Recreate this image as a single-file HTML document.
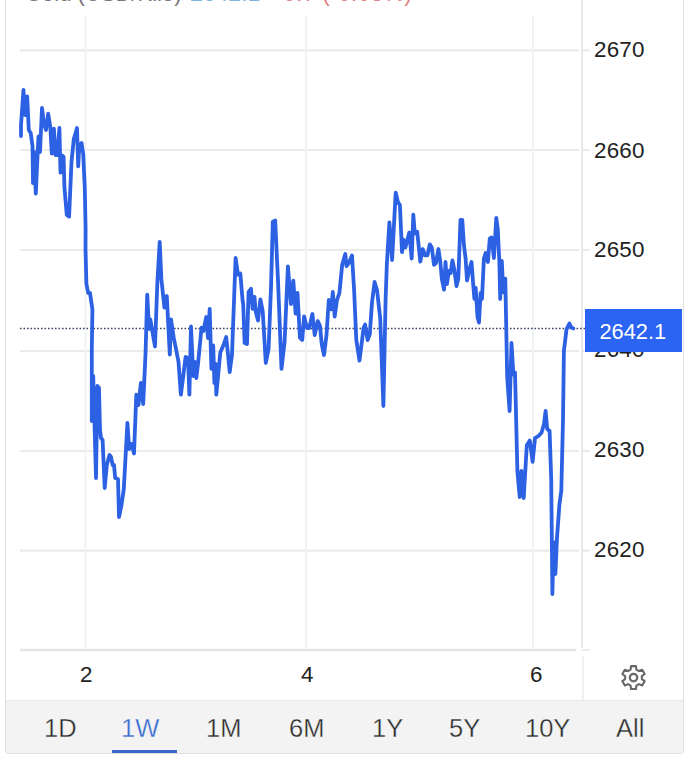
<!DOCTYPE html>
<html><head><meta charset="utf-8">
<style>
html,body{margin:0;padding:0;background:#fff;}
body{width:691px;height:765px;overflow:hidden;position:relative;font-family:"Liberation Sans",sans-serif;}
.a{position:absolute;white-space:nowrap;}
.card{position:absolute;left:5px;top:-20px;width:676.5px;height:772.5px;border:1.5px solid #e0e0e0;border-top:none;border-radius:0 0 4px 4px;overflow:hidden;background:#fff;}
.tabs{position:absolute;left:0;top:720px;width:100%;height:60px;background:#f3f3f3;border-top:1px solid #e7e7e7;}
.yl{position:absolute;left:594px;font-size:22.4px;letter-spacing:0.2px;color:#222;line-height:1;}
.xl{position:absolute;top:663.5px;font-size:22.4px;color:#222;line-height:1;}
.tab{position:absolute;top:715.5px;font-size:25.5px;color:#2a2a2a;line-height:1;-webkit-text-stroke:0.35px #f3f3f3;}
</style></head><body>
<div class="card"><div class="tabs"></div></div>
<div class="a" style="left:25px;top:-16.9px;font-size:22px;line-height:22px;color:#777;">Gold (USD/Kilo)</div>
<div class="a" style="left:190px;top:-17.9px;font-size:23px;line-height:23px;color:#7fb3de;">2642.1</div>
<div class="a" style="left:275px;top:-18.4px;font-size:23.5px;line-height:23.5px;color:#e08080;">-0.7 (-0.03%)</div>
<svg class="a" style="left:0;top:0" width="691" height="765" viewBox="0 0 691 765">
 <g stroke="#ebebeb" stroke-width="2.2">
  <line x1="20" y1="50.3" x2="579" y2="50.3"/><line x1="20" y1="150" x2="579" y2="150"/>
  <line x1="20" y1="250" x2="579" y2="250"/><line x1="20" y1="351" x2="579" y2="351"/>
  <line x1="20" y1="451" x2="579" y2="451"/><line x1="20" y1="550.6" x2="579" y2="550.6"/>
  <line x1="583" y1="50.3" x2="590" y2="50.3"/><line x1="583" y1="150" x2="590" y2="150"/>
  <line x1="583" y1="250" x2="590" y2="250"/><line x1="583" y1="351" x2="590" y2="351"/>
  <line x1="583" y1="451" x2="590" y2="451"/><line x1="583" y1="550.6" x2="590" y2="550.6"/>
 </g>
 <g stroke="#eff3f4" stroke-width="2">
  <line x1="85.5" y1="15.5" x2="85.5" y2="648"/><line x1="306" y1="15.5" x2="306" y2="648"/><line x1="533" y1="15.5" x2="533" y2="648"/>
 </g>
 <line x1="582" y1="0" x2="582" y2="648" stroke="#e8e8e8" stroke-width="2"/>
 <line x1="583" y1="656" x2="583" y2="700" stroke="#ececec" stroke-width="1.5"/>
 <line x1="20" y1="650" x2="576" y2="650" stroke="#e6e6e6" stroke-width="2.4"/>
 <line x1="582" y1="650" x2="590" y2="650" stroke="#ececec" stroke-width="2"/>
 <line x1="20" y1="328.5" x2="585" y2="328.5" stroke="#3d4763" stroke-width="1.7" stroke-dasharray="1.6 1.9"/>
 <polyline fill="none" stroke="#2d61e4" stroke-width="3.8" stroke-linejoin="round" stroke-linecap="round" points="21,136 21,125 23.5,90 25,115 27.2,96.5 28.8,130 30.7,133 32.5,146 33,183 34.1,152 35.8,193.6 37.7,152 38.5,136.4 40,152 42,108 44,124 46,130 48.2,113.7 50.3,127 51.8,153.7 53.9,128.6 55.4,155 57.3,155 59.4,128 60.5,172.7 62,155.5 63.6,157 64.4,186.8 66.8,215 69.1,216.6 71.5,161.7 73.8,139 77,128 78.2,166.4 79.3,146 81.6,143 83.2,154 84.8,188 85.6,230 85.5,249 86.4,284 88.2,293 90,293 92.4,309.6 91.8,350 91.8,421 93.2,376 96,478 97.4,386 99,388 100,430 101,438 102.6,440 104.7,488 106.8,465 109.5,455 111,457 112.7,465 114,465 115.2,478 118,479 119,517 121.5,505 123.8,489 127.4,423 129.2,449 131.6,444 134,453.5 136.3,394.7 138.5,405 140.9,383 143.2,404 145.6,352 147.2,294.7 149.1,328.8 150.3,319.4 155,346.5 157.4,281.8 159.7,241.8 161.4,279.4 164.4,307.6 166.8,296 169.8,354.7 171,319.4 173.8,338 176.2,350 178.5,361.8 180.9,394.7 185.6,357 188,358 189.4,394.7 191,326.5 193.3,376 194.9,361.8 196.3,378 198,364 200.3,340.6 201.5,327.6 203.4,331 206.2,317 208,338 209.7,308.8 211.4,368.8 213.2,345.3 214.4,383 215.6,364 216.3,394.7 220.3,352.4 223.4,345.3 226.2,337 227.8,352.4 229.7,372 232,354.7 235.6,258 238,274.7 240.3,273.5 242.6,300.6 243.2,304 244.6,343 247,344 248.6,292 251,288.8 252.6,308.8 254.5,297 255.6,311 258,320.6 260.4,299.4 262.7,311 265.8,363 268.6,348.8 271,287.6 272.8,221.8 275.2,220.6 278,280.6 281.5,368.8 284.6,341.8 287.9,266.5 291,304 293.3,280.6 295.6,313.5 297.5,293 299.9,337.6 302.2,340 304.1,316.5 307,328 309.3,328 312.4,314 314.7,335 317.8,321 320,326 321.8,344.7 324,355 326.5,335 328.8,300 331.2,309.4 332.8,291.8 334.7,316.5 337,300 339.4,293 342.2,264.7 345.3,254 346.5,266 348.8,263 352,255.4 354.1,290 356.3,340 359.5,360.6 363.6,327.7 365.1,324.5 367.6,340 369.8,334 372,302.5 374.6,282 377,290 380.2,318 383.4,406 385.6,299.4 386.9,263 389.4,222.4 392.1,260 395.7,192.6 397.9,202 399.9,205 402,252.2 403.5,239.7 405.4,247.5 407,241.3 409.3,232.6 411.7,258.5 413.3,214.6 414.8,233.4 417.2,231.8 420.3,261.7 422.7,249 425,255.4 427.4,255.4 429.8,244.4 431.8,247.5 434,264.8 436,263 438.4,249 440.3,261.7 441.8,278.7 444,289.6 445.5,262 447,284 448.8,271 450.6,273 452.4,260.4 454.3,269.5 456.5,286 458.3,278.7 460.5,220 462.3,220 463.8,244 465.6,258.5 467,280.5 469.3,269.5 471.5,262 473,282 474.4,298.8 475.7,287.8 477.5,317 479,322.6 480.6,293 482,298.8 483.9,258.5 485.7,253 487.9,262 489.8,238.4 491.6,237.5 493.9,258 496.3,217.8 497.8,229.6 499.4,263 500.2,299 501.8,261 503.3,292.4 505.3,278.6 507.2,377 509.6,411 511.5,343 513.4,374.7 515,372.4 517.4,471 519.7,497 521.4,471 523.7,498 526.8,445.3 529.8,440.6 532.6,461.8 535,438.2 538.5,436 541.6,432.4 544,424 545.6,411 547.2,428.8 549.6,431 551.2,478.8 552.4,594 553.5,542.4 554.7,542.4 555.4,574 557,537.6 559.4,504.7 561.3,490.6 563,420 563.9,351 566.5,329.4 569.4,323.5 571.4,327.5 573.3,328.4"/>
 <rect x="585" y="309" width="97" height="42.5" fill="#2b63f3"/>
 <g transform="translate(633.5,677.6)" fill="none" stroke="#676767" stroke-width="2.1">
  <path d="M-2.90,-7.99 L-2.45,-11.44 L2.45,-11.44 L2.90,-7.99 L5.47,-6.51 L8.68,-7.84 L11.13,-3.60 L8.37,-1.48 L8.37,1.48 L11.13,3.60 L8.68,7.84 L5.47,6.51 L2.90,7.99 L2.45,11.44 L-2.45,11.44 L-2.90,7.99 L-5.47,6.51 L-8.68,7.84 L-11.13,3.60 L-8.37,1.48 L-8.37,-1.48 L-11.13,-3.60 L-8.68,-7.84 L-5.47,-6.51 Z" stroke-linejoin="round"/>
  <circle cx="0" cy="0" r="3.7" stroke-width="2.3"/>
 </g>
</svg>
<div class="yl" style="top:39.2px">2670</div>
<div class="yl" style="top:139.6px">2660</div>
<div class="yl" style="top:239.2px">2650</div>
<div class="yl" style="top:339px">2640</div>
<div class="yl" style="top:438.6px">2630</div>
<div class="yl" style="top:538.6px">2620</div>
<div class="a" style="left:585px;top:309px;width:97px;height:42.5px;background:#2b63f3;"></div>
<div class="yl" style="left:599.5px;top:320.5px;color:#fff;font-size:21.8px;letter-spacing:0">2642.1</div>
<div class="xl" style="left:80px">2</div>
<div class="xl" style="left:301px">4</div>
<div class="xl" style="left:530px">6</div>
<div class="tab" style="left:44px">1D</div>
<div class="tab" style="left:121px;color:#3466d0">1W</div>
<div class="a" style="left:112px;top:750px;width:65px;height:3px;background:#3b68c8"></div>
<div class="tab" style="left:206px">1M</div>
<div class="tab" style="left:289px">6M</div>
<div class="tab" style="left:372px">1Y</div>
<div class="tab" style="left:449px">5Y</div>
<div class="tab" style="left:525px">10Y</div>
<div class="tab" style="left:616px">All</div>
</body></html>
